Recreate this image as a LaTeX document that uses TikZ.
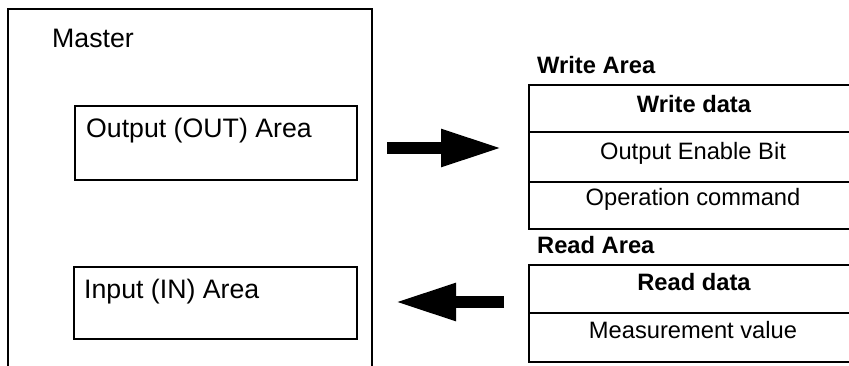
\documentclass[tikz,border=0pt]{standalone}
\usepackage{fontspec}
\setmainfont{Liberation Sans}
\usetikzlibrary{arrows.meta}
\begin{document}
\begin{tikzpicture}[x=1pt,y=-1pt,
  boxline/.style={draw=black,line width=2pt},
  areabox/.style={boxline,rectangle,inner sep=0pt,anchor=north west},
  rowbox/.style={boxline,rectangle,inner sep=0pt,anchor=north west,minimum width=360pt},
  bigtext/.style={inner sep=0pt,font=\fontsize{26.7}{30}\selectfont},
  celltext/.style={inner sep=0pt,anchor=base,font=\fontsize{23.7}{28}\selectfont},
  headtext/.style={inner sep=0pt,anchor=base west,font=\fontsize{23.7}{28}\selectfont\bfseries},
  blockarrow/.style={line width=11.5pt,-{Triangle[length=61pt,width=35pt]}}]
\useasboundingbox (0,0) rectangle (849,365);
\clip (0,0) rectangle (849,365);
% Master
\draw[boxline] (8,380) -- (8,9) -- (372,9) -- (372,380);
\node[bigtext,anchor=base west] (master) at (52,47) {Master};
\node[areabox,minimum width=282pt,minimum height=74pt] (outarea) at (74,105) {};
\node[bigtext,anchor=base west] (outtext) at (86,137) {Output (OUT) Area};
\node[areabox,minimum width=283pt,minimum height=72pt] (inarea) at (73,266) {};
\node[bigtext,anchor=base west] (intext) at (84,298) {Input (IN) Area};
% Write area
\node[headtext] (writehead) at (537,73) {Write Area};
\node[rowbox,minimum height=47pt] (w1) at (528,84) {};
\node[rowbox,minimum height=50pt] (w2) at (528,131) {};
\node[rowbox,minimum height=47pt] (w3) at (528,181) {};
\node[celltext,font=\fontsize{23.7}{28}\selectfont\bfseries] (w1t) at (694,112) {Write data};
\node[celltext] (w2t) at (693,159) {Output Enable Bit};
\node[celltext] (w3t) at (693,205) {Operation command};
% Read area
\node[headtext] (readhead) at (537,253) {Read Area};
\node[rowbox,minimum height=48pt] (r1) at (528,264) {};
\node[rowbox,minimum height=49pt] (r2) at (528,312) {};
\node[celltext,font=\fontsize{23.7}{28}\selectfont\bfseries] (r1t) at (694,290) {Read data};
\node[celltext] (r2t) at (693,338) {Measurement value};
% arrows
\coordinate (a1s) at (387,148);
\coordinate (a1e) at (502,148);
\coordinate (a2s) at (504,302);
\coordinate (a2e) at (395,302);
\draw[blockarrow] (a1s) -- (a1e);
\draw[blockarrow] (a2s) -- (a2e);
\end{tikzpicture}
\end{document}
